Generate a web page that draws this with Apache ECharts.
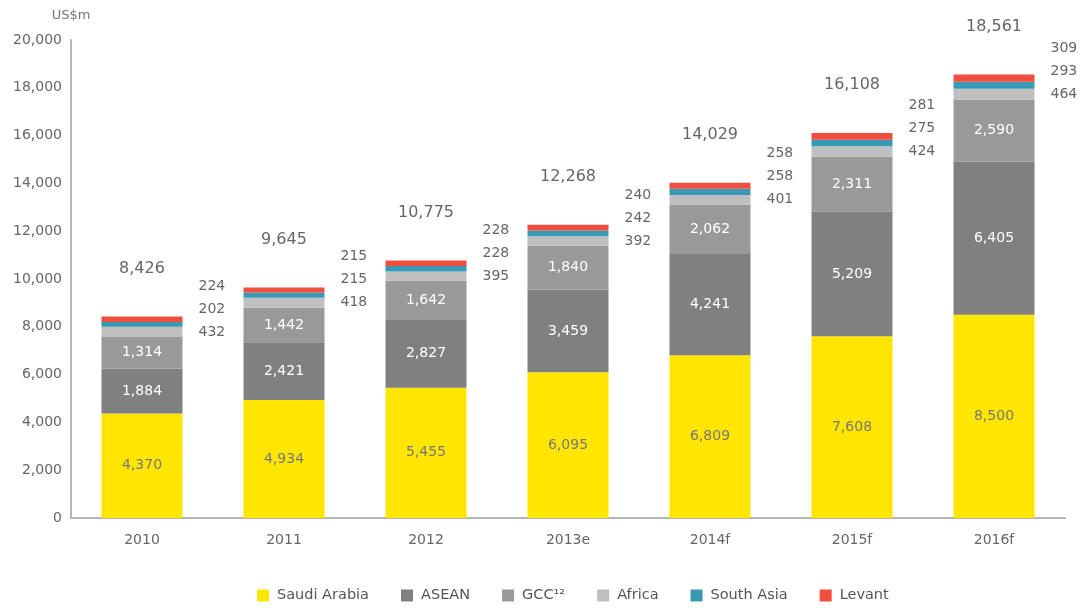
<!DOCTYPE html>
<html>
<head>
<meta charset="utf-8">
<script src="https://cdn.jsdelivr.net/npm/echarts@6/dist/echarts.min.js"></script>
<style>html,body{margin:0;padding:0;background:#fff;}#c{width:1080px;height:608px;}</style>
</head>
<body>
<div id="c"></div>
<script>
const categories = ['2010', '2011', '2012', '2013e', '2014f', '2015f', '2016f'];
const saudiArabia = [4370, 4934, 5455, 6095, 6809, 7608, 8500];
const asean = [1884, 2421, 2827, 3459, 4241, 5209, 6405];
const gcc = [1314, 1442, 1642, 1840, 2062, 2311, 2590];
const africa = [432, 418, 395, 392, 401, 424, 464];
const southAsia = [202, 215, 228, 242, 258, 275, 293];
const levant = [224, 215, 228, 240, 258, 281, 309];
const totals = [8426, 9645, 10775, 12268, 14029, 16108, 18561];
const yTicks = [0, 2000, 4000, 6000, 8000, 10000, 12000, 14000, 16000, 18000, 20000];

const FONT = '"DejaVu Sans", Verdana, sans-serif';
const fmt = v => Number(v).toLocaleString('en-US');

const chart = echarts.init(document.getElementById('c'), null, {renderer: 'canvas'});

function seg(name, data, color, labelColor) {
  return {
    name: name, type: 'bar', stack: 'total', data: data, barWidth: 81,
    itemStyle: {color: color},
    label: {show: true, position: 'inside', color: labelColor, fontSize: 14, fontFamily: FONT,
      formatter: p => fmt(p.value)},
    emphasis: {disabled: true}
  };
}

const option = {
  animation: false,
  textStyle: {fontFamily: FONT},
  grid: {left: 71, right: 15, top: 40, bottom: 90, containLabel: false},
  legend: {
    bottom: 0, left: 252, itemWidth: 12, itemHeight: 12, itemGap: 32,
    icon: 'rect',
    textStyle: {color: '#555', fontSize: 14.5, fontFamily: FONT, padding: [0, 0, 0, 3]},
    data: ['Saudi Arabia', 'ASEAN', 'GCC¹²', 'Africa', 'South Asia', 'Levant']
  },
  xAxis: {
    type: 'category', data: categories,
    axisLine: {lineStyle: {color: '#b5b5b5', width: 2}},
    axisTick: {show: false},
    axisLabel: {color: '#666', fontSize: 14, margin: 15, fontFamily: FONT}
  },
  yAxis: {
    type: 'value', min: 0, max: 20000, interval: 2000,
    name: 'US$m', nameLocation: 'end', nameGap: 18,
    nameTextStyle: {color: '#777', fontSize: 13, fontFamily: FONT, align: 'center'},
    axisLine: {show: true, lineStyle: {color: '#b5b5b5', width: 2}},
    axisTick: {show: false},
    splitLine: {show: false},
    axisLabel: {color: '#666', fontSize: 14, margin: 9, fontFamily: FONT,
      formatter: v => yTicks.includes(v) ? fmt(v) : ''}
  },
  series: [
    seg('Saudi Arabia', saudiArabia, '#ffe600', '#777'),
    seg('ASEAN', asean, '#7f807f', '#fff'),
    seg('GCC¹²', gcc, '#999999', '#fff'),
    {
      name: 'Africa', type: 'bar', stack: 'total', data: africa, barWidth: 81,
      itemStyle: {color: '#bfbfbf'},
      label: {show: true, position: 'right', distance: 16, offset: [0, -23],
        color: '#666', fontSize: 14, lineHeight: 23, fontFamily: FONT,
        formatter: p => [fmt(levant[p.dataIndex]), fmt(southAsia[p.dataIndex]), fmt(p.value)].join('\n')},
      emphasis: {disabled: true}
    },
    {
      name: 'South Asia', type: 'bar', stack: 'total', data: southAsia, barWidth: 81,
      itemStyle: {color: '#3799b4'}, emphasis: {disabled: true}
    },
    {
      name: 'Levant', type: 'bar', stack: 'total', data: levant, barWidth: 81,
      itemStyle: {color: '#f04e3e'},
      label: {show: true, position: 'top', distance: 40, color: '#666', fontSize: 16, fontFamily: FONT,
        formatter: p => fmt(totals[p.dataIndex])},
      emphasis: {disabled: true}
    }
  ]
};
chart.setOption(option);
</script>
</body>
</html>
